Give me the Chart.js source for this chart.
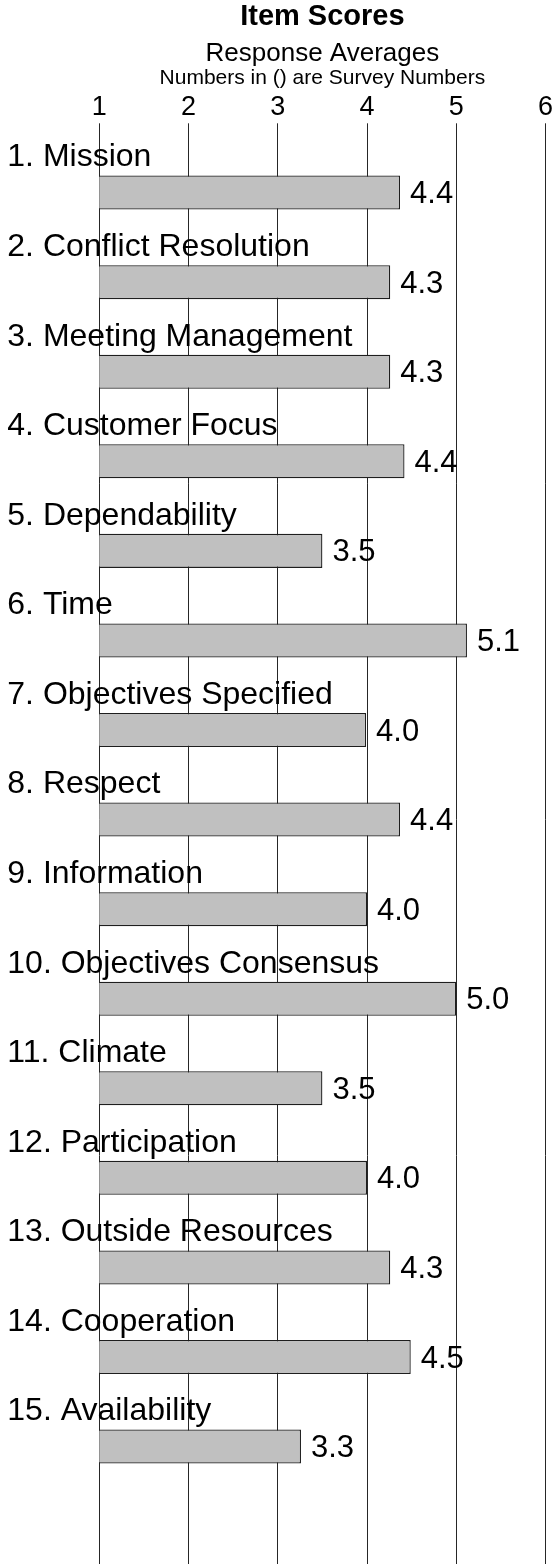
<!DOCTYPE html>
<html>
<head>
<meta charset="utf-8">
<title>Item Scores</title>
<script src="https://cdn.jsdelivr.net/npm/chart.js@4.4.1/dist/chart.umd.min.js"></script>
<style>
  html, body { margin: 0; padding: 0; background: #fff; }
  canvas { display: block; }
</style>
</head>
<body>
<canvas id="scores" width="553" height="1564"></canvas>
<script>
// survey items, top to bottom
const items = [
  '1. Mission',
  '2. Conflict Resolution',
  '3. Meeting Management',
  '4. Customer Focus',
  '5. Dependability',
  '6. Time',
  '7. Objectives Specified',
  '8. Respect',
  '9. Information',
  '10. Objectives Consensus',
  '11. Climate',
  '12. Participation',
  '13. Outside Resources',
  '14. Cooperation',
  '15. Availability'
];

// response averages
const averages = [4.37, 4.26, 4.26, 4.42, 3.5, 5.12, 3.99, 4.37, 4.0, 5.0, 3.5, 4.0, 4.26, 4.49, 3.26];

// scale ticks along the top
const scaleTicks = [1, 2, 3, 4, 5, 6];

const FONT = "'Liberation Sans', Arial, Helvetica, sans-serif";
const LINE = '#262626';

Chart.defaults.font.family = FONT;
Chart.defaults.color = '#000';

// number printed at the end of every bar
const valueLabels = {
  id: 'valueLabels',
  afterDatasetsDraw(chart) {
    const { ctx } = chart;
    const meta = chart.getDatasetMeta(0);
    ctx.save();
    ctx.font = '31px ' + FONT;
    ctx.fillStyle = '#000';
    ctx.textAlign = 'left';
    ctx.textBaseline = 'middle';
    meta.data.forEach((bar, i) => {
      ctx.fillText(averages[i].toFixed(1), bar.x + 10, bar.y + 2);
    });
    ctx.restore();
  }
};

const setTicks = scale => {
  scale.ticks = scaleTicks.map(v => ({ value: v }));
};

new Chart(document.getElementById('scores'), {
  type: 'bar',
  plugins: [valueLabels],
  data: {
    labels: items,
    datasets: [{
      label: 'Response Averages',
      data: averages,
      backgroundColor: '#c0c0c0',
      borderColor: '#1e1e1e',
      borderWidth: 1.3,
      borderSkipped: false,
      barPercentage: 0.38,
      categoryPercentage: 1
    }]
  },
  options: {
    indexAxis: 'y',
    responsive: false,
    animation: false,
    layout: { padding: 0 },
    plugins: {
      legend: { display: false },
      tooltip: { enabled: false },
      title: {
        display: true,
        text: 'Item Scores',
        fullSize: false,
        color: '#000',
        font: { size: 29, weight: 'bold', lineHeight: 1.15 },
        padding: { top: 0, bottom: 0 }
      },
      subtitle: {
        display: true,
        text: 'Response Averages',
        fullSize: false,
        color: '#000',
        font: { size: 26, lineHeight: 1 },
        padding: { top: 7.95, bottom: 0 }
      }
    },
    scales: {
      x: {
        type: 'linear',
        position: 'top',
        min: 1,
        max: 6,
        afterBuildTicks: setTicks,
        ticks: { padding: 0, font: { size: 27 }, color: '#000' },
        grid: { color: LINE, tickColor: LINE, lineWidth: 1, tickLength: 24.5 },
        border: { display: false },
        title: {
          display: true,
          text: 'Numbers in () are Survey Numbers',
          color: '#000',
          font: { size: 21, lineHeight: 1 },
          padding: { top: 0, bottom: 2.6 }
        }
      },
      // bottom copy of the scale: only its tick marks, to run the grid to the edge
      x2: {
        type: 'linear',
        axis: 'x',
        position: 'bottom',
        min: 1,
        max: 6,
        afterBuildTicks: setTicks,
        ticks: { display: false },
        grid: { drawOnChartArea: false, color: LINE, tickColor: LINE, lineWidth: 1, tickLength: 72.65 },
        border: { display: false }
      },
      y: {
        ticks: {
          mirror: true,
          padding: -92,
          labelOffset: -35,
          color: '#000',
          font: { size: 32 }
        },
        grid: { display: false },
        border: { display: false },
        afterFit(scale) { scale.width = 99.3; }
      }
    }
  }
});
</script>
</body>
</html>
